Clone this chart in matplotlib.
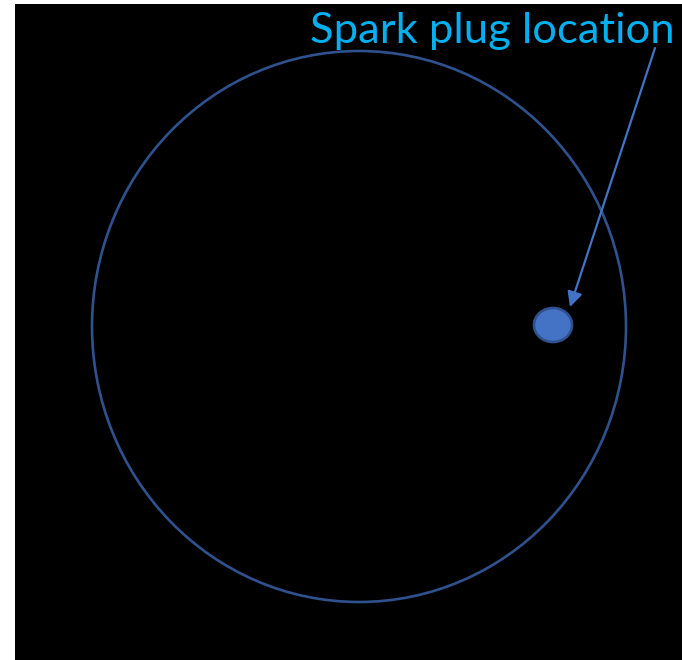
import matplotlib
matplotlib.use("Agg")
import matplotlib.pyplot as plt
from matplotlib.patches import Ellipse, Rectangle

# pixel-space layout (figure is 682 x 660)
W, H = 682, 660
panel = (15, 4, 667, 656)            # x, y, width, height of black backdrop
bore_center = (359, 326.5)
bore_size = (534, 551)
plug_center = (553, 325)
plug_size = (38, 34)
label = "Spark plug location"
arrow_start = (655, 48)
arrow_end = (570, 307)

fig = plt.figure(figsize=(W / 100, H / 100), dpi=100)
ax = fig.add_axes([0, 0, 1, 1])
ax.set_xlim(0, W)
ax.set_ylim(H, 0)
ax.axis("off")

ax.add_patch(Rectangle(panel[:2], panel[2], panel[3], facecolor="black", edgecolor="none"))
ax.add_patch(Ellipse(bore_center, *bore_size, facecolor="none", edgecolor="#2F528F", lw=1.9))
ax.add_patch(Ellipse(plug_center, *plug_size, facecolor="#4472C4", edgecolor="#2F528F", lw=1.9))

ax.annotate("", xy=arrow_end, xytext=arrow_start,
            arrowprops=dict(arrowstyle="-|>,head_length=0.9,head_width=0.45",
                            color="#4472C4", lw=1.6, shrinkA=0, shrinkB=0))

ax.text(675, 43, label, color="#00B0F0", fontsize=31.3, family="Lato",
        ha="right", va="baseline")

fig.savefig("out.png", dpi=100)
